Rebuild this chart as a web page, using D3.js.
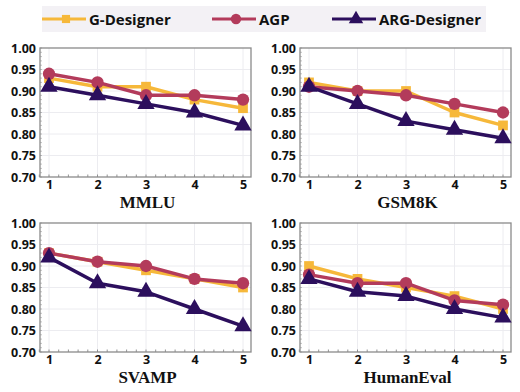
<!DOCTYPE html>
<html>
<head>
<meta charset="utf-8">
<script src="https://cdn.jsdelivr.net/npm/d3@7"></script>
<style>
  body { margin: 0; background: #fff; }
  svg { display: block; }
</style>
</head>
<body>
<svg id="chart" width="520" height="392"></svg>
<script>
'use strict'

const steps = [1, 2, 3, 4, 5]
const yTicks = [0.70, 0.75, 0.80, 0.85, 0.90, 0.95, 1.00]
const seriesNames = ['G-Designer', 'AGP', 'ARG-Designer']
const datasets = ['MMLU', 'GSM8K', 'SVAMP', 'HumanEval']

const gDesigner = {
  MMLU: [0.93, 0.91, 0.91, 0.88, 0.86],
  GSM8K: [0.92, 0.90, 0.90, 0.85, 0.82],
  SVAMP: [0.93, 0.91, 0.89, 0.87, 0.85],
  HumanEval: [0.90, 0.87, 0.85, 0.83, 0.80]
}
const agp = {
  MMLU: [0.94, 0.92, 0.89, 0.89, 0.88],
  GSM8K: [0.91, 0.90, 0.89, 0.87, 0.85],
  SVAMP: [0.93, 0.91, 0.90, 0.87, 0.86],
  HumanEval: [0.88, 0.86, 0.86, 0.82, 0.81]
}
const argDesigner = {
  MMLU: [0.91, 0.89, 0.87, 0.85, 0.82],
  GSM8K: [0.91, 0.87, 0.83, 0.81, 0.79],
  SVAMP: [0.92, 0.86, 0.84, 0.80, 0.76],
  HumanEval: [0.87, 0.84, 0.83, 0.80, 0.78]
}

const seriesData = [gDesigner, agp, argDesigner]
const colors = ['#f6b83a', '#b33b5b', '#2c0f5d']
const symbols = [d3.symbolSquare, d3.symbolCircle, d3.symbolTriangle]
const symbolSizes = [95, 120, 130]

const svg = d3.select('#chart')

// legend
const legend = svg.append('g')
legend.append('rect')
  .attr('x', 42).attr('y', 6).attr('width', 444).attr('height', 26)
  .attr('fill', '#f3f1f5')
const legendX = [42, 212, 332]
seriesNames.forEach((name, i) => {
  const g = legend.append('g').attr('transform', `translate(${legendX[i]},19)`)
  g.append('line').attr('x1', 0).attr('x2', 44)
    .attr('stroke', colors[i]).attr('stroke-width', 3)
  g.append('path').attr('transform', 'translate(24,0)')
    .attr('d', d3.symbol(symbols[i], symbolSizes[i] * 0.7)())
    .attr('fill', colors[i])
  g.append('text').attr('x', 47).attr('y', 6)
    .attr('font-family', 'Open Sans, sans-serif').attr('font-weight', 'bold')
    .attr('font-size', 15).attr('fill', '#111')
    .text(name)
})

const panels = [
  { left: 40, top: 48 },
  { left: 300, top: 48 },
  { left: 40, top: 223 },
  { left: 300, top: 223 }
]
const pw = 211
const ph = 129

datasets.forEach((ds, k) => {
  const p = panels[k]
  const g = svg.append('g').attr('transform', `translate(${p.left},${p.top})`)

  const x = d3.scaleLinear().domain([0.95, 5.05]).range([0, pw])
  const xd = d3.scaleLinear().domain([1, 5]).range([9, pw - 8])
  const y = d3.scaleLinear().domain([0.70, 1.00]).range([ph, 0])

  // grid
  g.append('g').selectAll('line').data(yTicks.slice(1, -1)).join('line')
    .attr('x1', 0).attr('x2', pw)
    .attr('y1', d => y(d)).attr('y2', d => y(d))
    .attr('stroke', '#ececf0').attr('stroke-width', 1)
  g.append('g').selectAll('line').data(steps).join('line')
    .attr('x1', d => xd(d)).attr('x2', d => xd(d))
    .attr('y1', 0).attr('y2', ph)
    .attr('stroke', '#ececf0').attr('stroke-width', 1)

  // minor ticks
  const minorX = d3.range(1, 5.001, 0.2).concat([0.8])
  g.append('g').selectAll('line').data(minorX).join('line')
    .attr('x1', d => xd(d)).attr('x2', d => xd(d))
    .attr('y1', ph).attr('y2', ph - 2.5)
    .attr('stroke', '#777').attr('stroke-width', 0.8)
  const minorY = d3.range(0.70, 1.0001, 0.01)
  g.append('g').selectAll('line').data(minorY).join('line')
    .attr('x1', 0).attr('x2', 2)
    .attr('y1', d => y(d)).attr('y2', d => y(d))
    .attr('stroke', '#999').attr('stroke-width', 0.6)

  // frame
  g.append('rect').attr('width', pw).attr('height', ph)
    .attr('fill', 'none').attr('stroke', '#8a8a8a').attr('stroke-width', 1.3)

  // axes
  const yAxis = d3.axisLeft(y).tickValues(yTicks).tickFormat(d3.format('.2f')).tickSize(0).tickPadding(4)
  const ya = g.append('g').call(yAxis)
  ya.select('.domain').remove()
  ya.selectAll('text').attr('font-family', 'Open Sans, sans-serif')
    .attr('font-weight', 'bold').attr('font-size', 12.5).attr('fill', '#111')

  const xAxis = d3.axisBottom(xd).tickValues(steps).tickFormat(d3.format('d')).tickSize(0).tickPadding(3)
  const xa = g.append('g').attr('transform', `translate(0,${ph})`).call(xAxis)
  xa.select('.domain').remove()
  xa.selectAll('text').attr('font-family', 'Open Sans, sans-serif')
    .attr('font-weight', 'bold').attr('font-size', 12.5).attr('fill', '#111')

  // title
  g.append('text').attr('x', pw / 2 + 2).attr('y', ph + 31)
    .attr('text-anchor', 'middle')
    .attr('font-family', 'Liberation Serif, Times New Roman, serif')
    .attr('font-weight', 'bold').attr('font-size', 17).attr('fill', '#111')
    .text(ds)

  // series
  const line = d3.line().x((d, i) => xd(steps[i])).y(d => y(d))
  seriesData.forEach((s, i) => {
    const vals = s[ds]
    g.append('path').datum(vals)
      .attr('d', line).attr('fill', 'none')
      .attr('stroke', colors[i]).attr('stroke-width', 3.5)
      .attr('stroke-linejoin', 'round')
    g.append('g').selectAll('path').data(vals).join('path')
      .attr('transform', (d, j) => `translate(${xd(steps[j])},${y(d)})`)
      .attr('d', d3.symbol(symbols[i], symbolSizes[i])())
      .attr('fill', colors[i])
  })
})
</script>
</body>
</html>
